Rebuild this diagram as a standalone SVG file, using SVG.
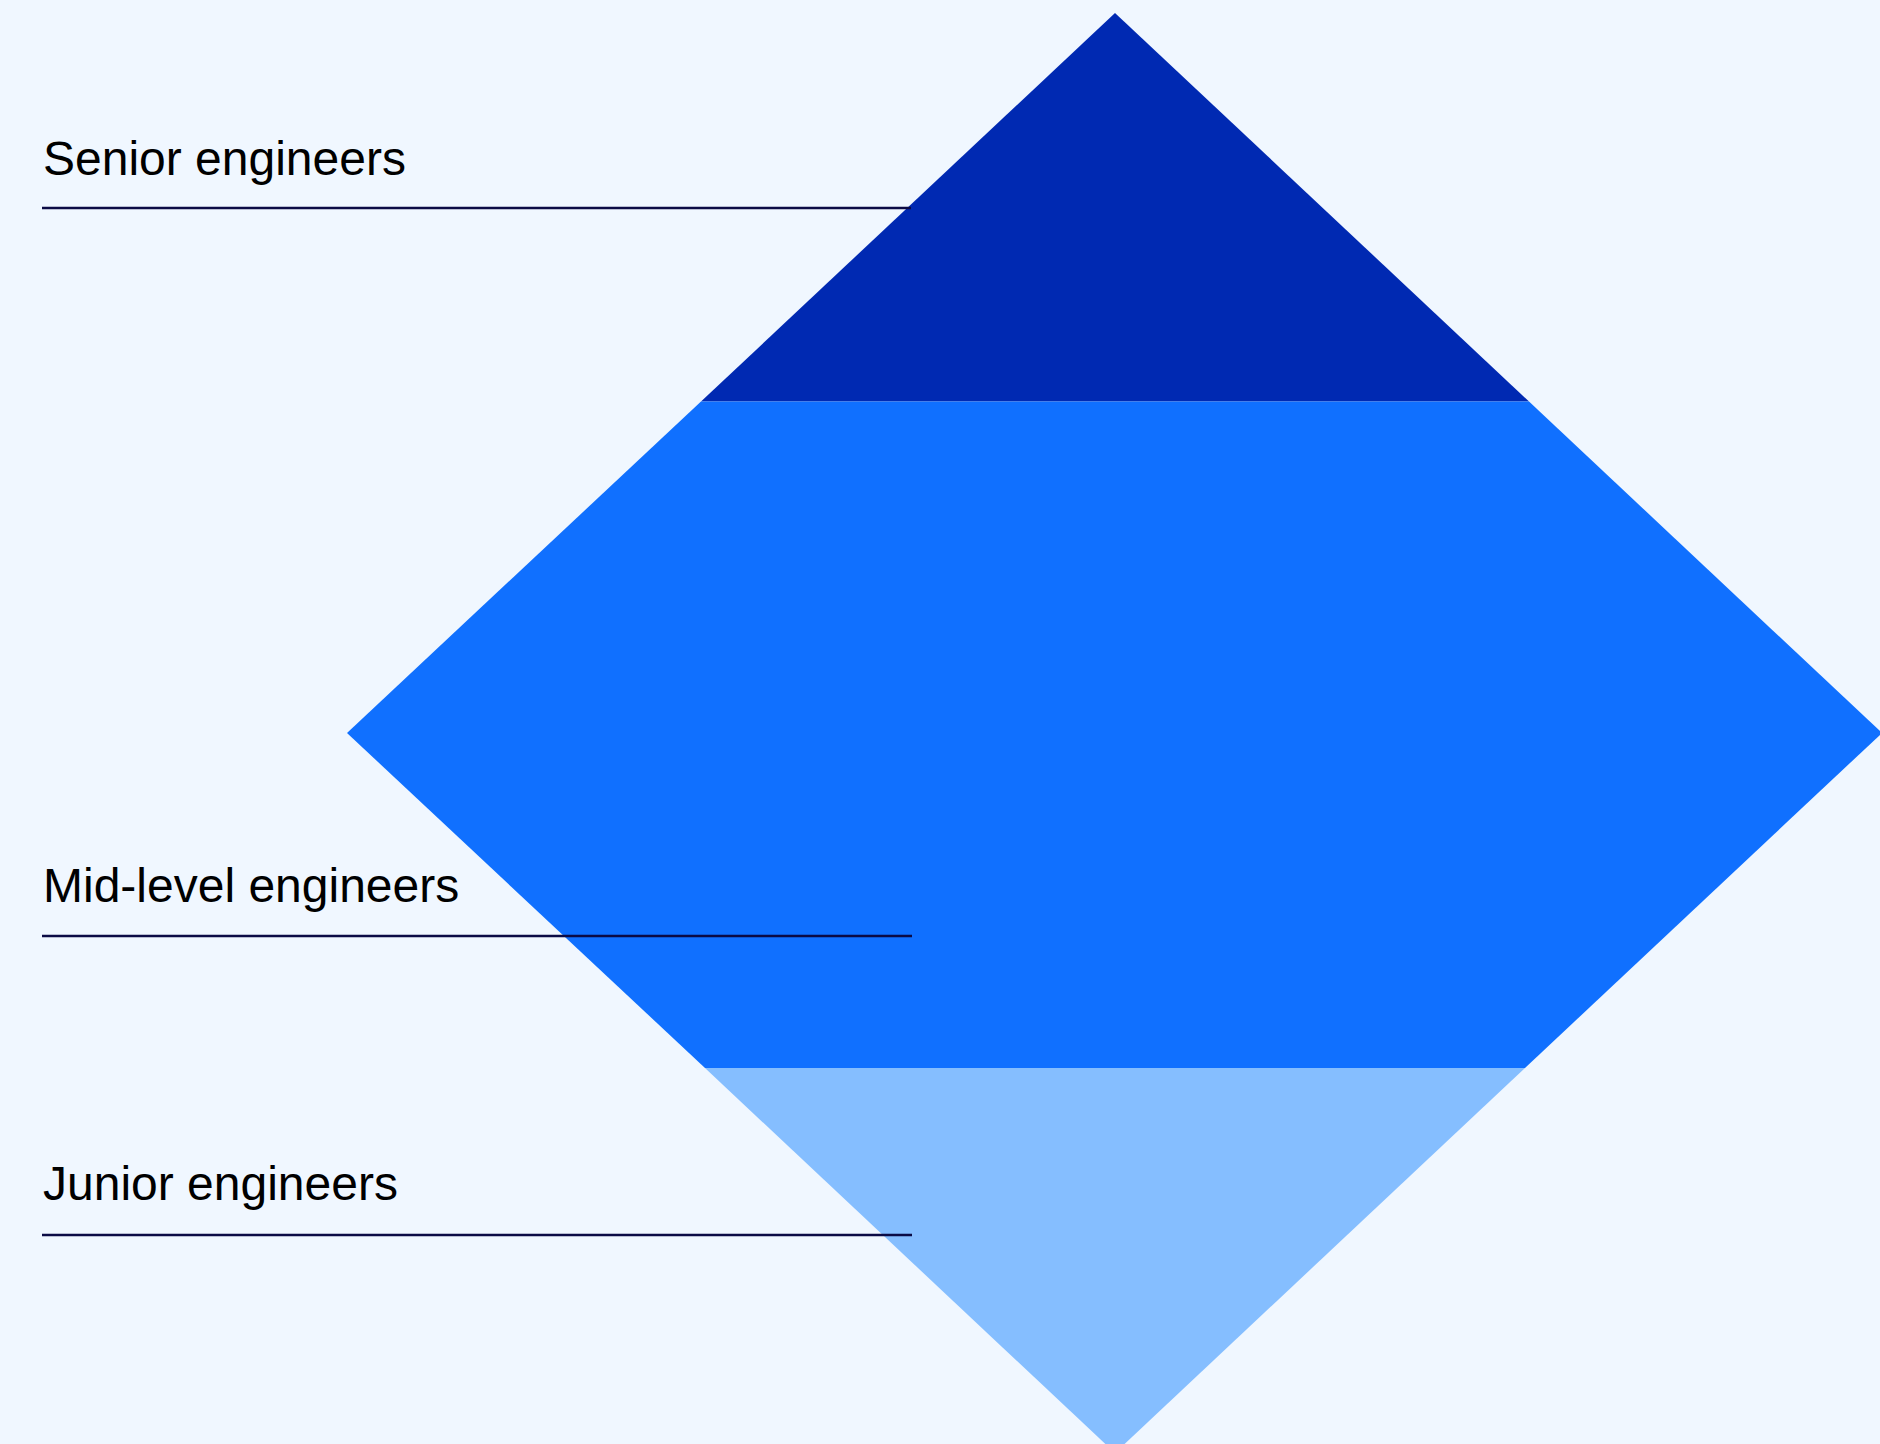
<svg xmlns="http://www.w3.org/2000/svg" width="1880" height="1444" viewBox="0 0 1880 1444">
  <style>
    .label { font-family: "Liberation Sans", Arial, sans-serif; font-size: 48px; fill: #000000; }
    .rule { stroke: #0b0b45; stroke-width: 2.5; fill: none; }
  </style>
  <rect x="0" y="0" width="1880" height="1444" fill="#F0F7FF"/>
  <g id="tier-senior">
    <polygon points="1115,13 1529,401.5 701,401.5" fill="#0029B2"/>
  </g>
  <g id="tier-mid">
    <polygon points="701,401.5 1529,401.5 1882,733 1525,1068 705,1068 347,733" fill="#1070FF"/>
  </g>
  <g id="tier-junior">
    <polygon points="705,1068 1525,1068 1115,1453" fill="#85BEFF"/>
  </g>
  <g id="connectors">
    <line class="rule" x1="42" y1="208" x2="911" y2="208"/>
    <line class="rule" x1="42" y1="936" x2="912" y2="936"/>
    <line class="rule" x1="42" y1="1235" x2="912" y2="1235"/>
  </g>
  <g id="label-senior">
    <text class="label" x="43" y="175">Senior engineers</text>
  </g>
  <g id="label-mid">
    <text class="label" x="43" y="902">Mid-level engineers</text>
  </g>
  <g id="label-junior">
    <text class="label" x="43" y="1200">Junior engineers</text>
  </g>
</svg>
